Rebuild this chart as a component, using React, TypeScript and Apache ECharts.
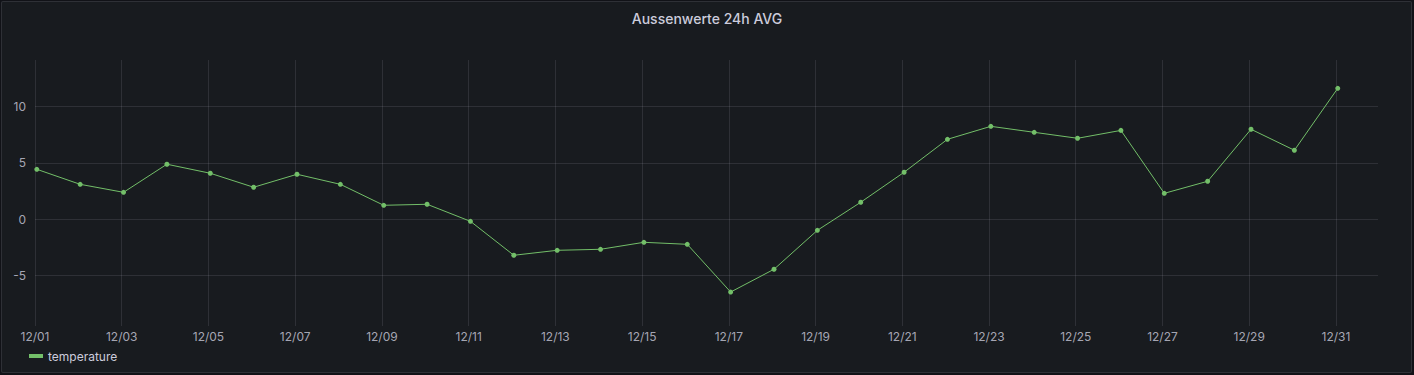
import React, { useEffect, useRef } from "react";
import * as echarts from "echarts";

const title = "Aussenwerte 24h AVG";
const seriesName = "temperature";
const days = [
  "12/01", "12/02", "12/03", "12/04", "12/05", "12/06", "12/07", "12/08", "12/09", "12/10",
  "12/11", "12/12", "12/13", "12/14", "12/15", "12/16", "12/17", "12/18", "12/19", "12/20",
  "12/21", "12/22", "12/23", "12/24", "12/25", "12/26", "12/27", "12/28", "12/29", "12/30", "12/31",
];
const temperature = [
  4.43, 3.1, 2.39, 4.88, 4.08, 2.84, 3.99, 3.1, 1.24, 1.33,
  -0.18, -3.19, -2.75, -2.66, -2.04, -2.22, -6.45, -4.43, -0.98, 1.51,
  4.17, 7.09, 8.24, 7.71, 7.18, 7.88, 2.3, 3.37, 7.98, 6.12, 11.61,
];
// samples are stamped at 01:00 of each day (fraction of a day)
const sampleHour = 1 / 24;
const xTickDays = [0, 2, 4, 6, 8, 10, 12, 14, 16, 18, 20, 22, 24, 26, 28, 30];
const xMax = 30.97;
const yTicks = [-5, 0, 5, 10];
const yMin = -9.46;
const yMax = 14.12;

export default function App() {
  const ref = useRef<HTMLDivElement>(null);
  useEffect(() => {
    if (!ref.current) return;
    const chart = echarts.init(ref.current, null, { renderer: "svg" });
    const font = "Inter, 'Noto Sans', sans-serif";
    const textColor = "rgba(204,204,220,0.8)";
    const gridColor = "rgba(204,204,220,0.12)";
    chart.setOption({
      animation: false,
      backgroundColor: "transparent",
      title: {
        text: title,
        left: "center",
        top: 6,
        textStyle: { color: "#ccccdc", fontSize: 14, fontWeight: 500, fontFamily: font },
      },
      legend: {
        left: 24,
        top: 345,
        icon: "rect",
        itemWidth: 14,
        itemHeight: 4,
        itemGap: 10,
        textStyle: { color: "#ccccdc", fontSize: 12, fontFamily: font, padding: [0, 0, 0, 0] },
        data: [seriesName],
      },
      grid: { left: 35, right: 36, top: 60, bottom: 49, containLabel: false },
      xAxis: {
        type: "value",
        min: 0,
        max: xMax,
        axisLine: { show: false },
        axisTick: { show: false, customValues: xTickDays },
        axisLabel: {
          customValues: xTickDays,
          color: textColor,
          fontSize: 12,
          fontFamily: font,
          margin: 4,
          formatter: (v: number) => days[Math.round(v)] ?? "",
        },
        splitLine: { show: true, lineStyle: { color: gridColor, width: 1 } },
      },
      yAxis: {
        type: "value",
        min: yMin,
        max: yMax,
        axisLine: { show: false },
        axisTick: { show: false, customValues: yTicks },
        axisLabel: {
          customValues: yTicks,
          color: textColor,
          fontSize: 12,
          fontFamily: font,
          margin: 9,
        },
        splitLine: { show: true, lineStyle: { color: gridColor, width: 1 } },
      },
      series: [
        {
          name: seriesName,
          type: "line",
          data: temperature.map((t, i) => [i + sampleHour, t]),
          symbol: "circle",
          symbolSize: 5,
          showSymbol: true,
          lineStyle: { color: "#73bf69", width: 1 },
          itemStyle: { color: "#73bf69" },
        },
      ],
    });
    return () => chart.dispose();
  }, []);
  return (
    <div style={{ position: "fixed", left: 0, top: 0, width: 1414, height: 375, background: "#111217" }}>
      <div
        style={{
          position: "absolute",
          left: 1,
          top: 1,
          width: 1411,
          height: 372,
          boxSizing: "border-box",
          border: "1px solid rgba(204,204,220,0.12)",
          borderRadius: 2,
          background: "#181b1f",
        }}
      />
      <div ref={ref} style={{ position: "absolute", left: 0, top: 0, width: 1414, height: 375 }} />
    </div>
  );
}
